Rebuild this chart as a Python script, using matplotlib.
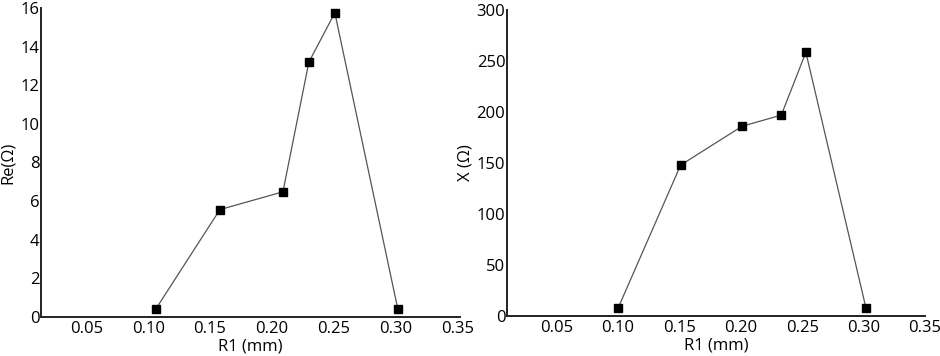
import matplotlib
matplotlib.use("Agg")
import matplotlib.pyplot as plt

# values
r1_re = [0.106, 0.158, 0.209, 0.230, 0.251, 0.302]
re_vals = [0.4, 5.56, 6.48, 13.2, 15.75, 0.4]

r1_x = [0.100, 0.151, 0.201, 0.233, 0.253, 0.302]
x_vals = [7.7, 148, 186, 197, 258.5, 7.7]

xticks = [0.05, 0.10, 0.15, 0.20, 0.25, 0.30, 0.35]
xticklabels = ["0.05", "0.10", "0.15", "0.20", "0.25", "0.30", "0.35"]

plt.rcParams['font.family'] = ['Open Sans', 'DejaVu Sans']
plt.rcParams['font.size'] = 12

fig = plt.figure(figsize=(9.4, 3.56), dpi=100)
ax1 = fig.add_axes([0.0433, 0.1096, 0.4457, 0.868])
ax2 = fig.add_axes([0.539, 0.112, 0.445, 0.860])


def style(ax):
    for s in ['top', 'right']:
        ax.spines[s].set_visible(False)
    for s in ['left', 'bottom']:
        ax.spines[s].set_linewidth(1.4)
        ax.spines[s].set_color('#222222')
    ax.tick_params(length=0)
    ax.tick_params(axis='y', pad=1)
    ax.tick_params(axis='x', pad=3)
    ax.set_xticks(xticks)
    ax.set_xticklabels(xticklabels)
    ax.set_xlabel('R1 (mm)', labelpad=1)


ax1.plot(r1_re, re_vals, color='#555555', lw=0.9, marker='s', ms=5.5,
         mfc='black', mec='black')
ax1.set_xlim(0.013, 0.352)
ax1.set_ylim(0, 16)
ax1.set_yticks(range(0, 17, 2))
ax1.set_ylabel('Re(Ω)', labelpad=3)
style(ax1)

ax2.plot(r1_x, x_vals, color='#555555', lw=0.9, marker='s', ms=5.5,
         mfc='black', mec='black')
ax2.set_xlim(0.0093, 0.35)
ax2.set_ylim(0, 300)
ax2.set_yticks(range(0, 301, 50))
ax2.set_ylabel('X (Ω)', labelpad=2)
style(ax2)

fig.savefig('out.png', dpi=100)
